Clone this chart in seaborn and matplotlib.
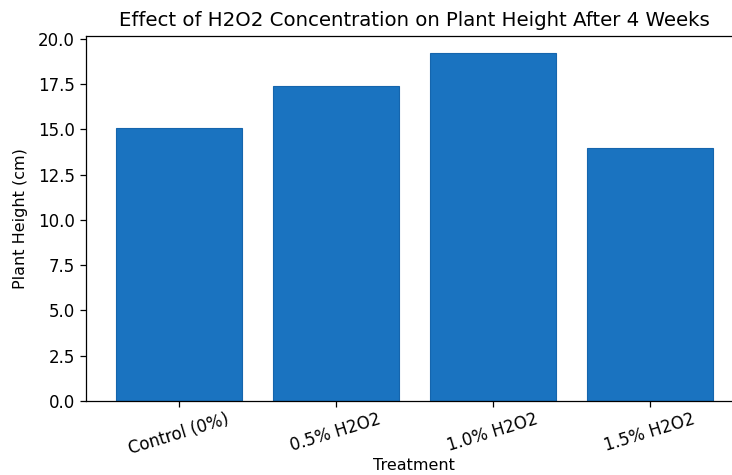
import numpy as np
import pandas as pd
import seaborn as sns
import matplotlib.pyplot as plt

# Plant height after 4 weeks for each H2O2 treatment

treatments = ['Control (0%)', '0.5% H2O2', '1.0% H2O2', '1.5% H2O2']
heights = [15.1, 17.4, 19.2, 14.0]

df = pd.DataFrame({'Treatment': treatments, 'Plant Height (cm)': heights})

sns.set_style('ticks')
plt.rcParams['font.family'] = ['DejaVu Sans']
plt.rcParams['text.color'] = 'black'
plt.rcParams['axes.labelcolor'] = 'black'
plt.rcParams['xtick.color'] = 'black'
plt.rcParams['ytick.color'] = 'black'

fig = plt.figure(figsize=(7.32, 4.75), dpi=100)
# axes run a bit past the right edge, like the reference crop
ax = fig.add_axes([0.1175, 0.156, 0.897, 0.768])

sns.barplot(data=df, x='Treatment', y='Plant Height (cm)', color='#1a73c0',
            saturation=1, width=0.8, edgecolor='#1565ad', linewidth=0.8, ax=ax)

ax.set_ylim(0, max(heights) * 1.05)
ax.set_xlim(-0.59, 3.59)
ax.set_yticks(np.arange(0, 20.1, 2.5))
ax.set_title('Effect of H2O2 Concentration on Plant Height After 4 Weeks', fontsize=14.2, pad=7)
ax.set_xlabel('Treatment', fontsize=11.5, labelpad=0)
ax.set_ylabel('Plant Height (cm)', fontsize=11.5, labelpad=7)
ax.tick_params(length=4.5, width=0.9, labelsize=12)
ax.tick_params(axis='x', pad=2)
plt.setp(ax.get_xticklabels(), rotation=17)
for side in ['top', 'right', 'left', 'bottom']:
    ax.spines[side].set_visible(True)
    ax.spines[side].set_color('black')
    ax.spines[side].set_linewidth(0.9)

fig.savefig('out.png', dpi=100)
